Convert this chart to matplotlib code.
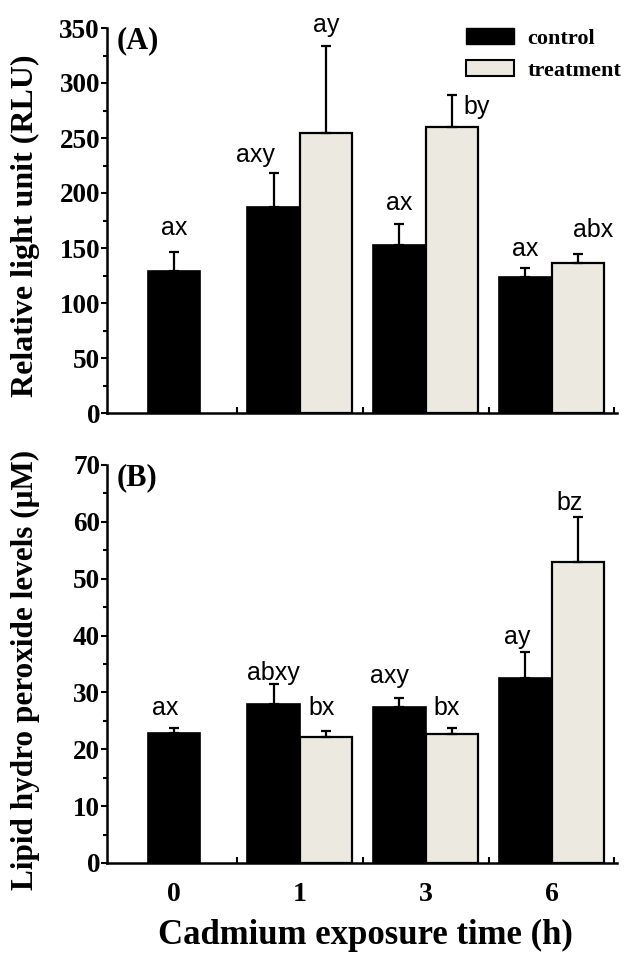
import matplotlib
matplotlib.use("Agg")
import matplotlib.pyplot as plt
from matplotlib.patches import Patch
from matplotlib.ticker import MultipleLocator, FixedLocator
import numpy as np

# ---------------- data ----------------
times = ["0", "1", "3", "6"]

# Panel A: relative light unit (RLU)
rlu_control = [129.5, 187, 153, 124]
rlu_control_err = [17, 31.5, 18.5, 7.5]
rlu_treat = [np.nan, 255, 260, 136.5]
rlu_treat_err = [np.nan, 79, 29.5, 8.5]
rlu_ctrl_letters = ["ax", "axy", "ax", "ax"]
rlu_trt_letters = ["", "ay", "by", "abx"]

# Panel B: lipid hydroperoxide levels (uM)
lhp_control = [22.8, 28.0, 27.4, 32.6]
lhp_control_err = [1.0, 3.5, 1.6, 4.5]
lhp_treat = [np.nan, 22.1, 22.7, 52.9]
lhp_treat_err = [np.nan, 1.2, 1.1, 7.9]
lhp_ctrl_letters = ["ax", "abxy", "axy", "ay"]
lhp_trt_letters = ["", "bx", "bx", "bz"]

# ---------------- layout / style ----------------
W, H = 633, 957
CTRL = "#000000"
TRT = "#ECEAE0"
SERIF = ["Liberation Serif", "DejaVu Serif"]
SANS = ["Liberation Sans", "DejaVu Sans"]
bw = 0.415

# label offsets in points (dx, dy) relative to top of error bar
offA_c = [(0, 12), (-13, 8), (0, 10), (0, 9)]
offA_t = [(0, 0), (0, 10), (18, -14), (11, 12)]
offB_c = [(-6, 9), (0, 3), (-7, 11), (-6, 6)]
offB_t = [(0, 0), (-3, 11), (-4, 9), (-6, 5)]

fig = plt.figure(figsize=(W / 100, H / 100), dpi=100)
axA = fig.add_axes([107 / W, 1 - 413 / H, 510 / W, 385 / H])
axB = fig.add_axes([107 / W, 1 - 863 / H, 510 / W, 398 / H])


def draw(ax, ctrl, cerr, trt, terr, clet, tlet, offc, offt, ymax, major, minor):
    x = np.arange(len(times))
    has_t = ~np.isnan(np.array(trt, dtype=float))
    xc = np.where(has_t, x - bw / 2, x)
    xt = x + bw / 2
    ax.bar(xc, ctrl, width=bw, color=CTRL, edgecolor=CTRL, linewidth=1.2, zorder=2)
    ax.errorbar(xc, ctrl, yerr=[np.zeros(len(ctrl)), cerr], fmt="none",
                ecolor="black", elinewidth=1.6, capsize=3.5, capthick=1.6, zorder=3)
    ax.bar(xt[has_t], np.array(trt)[has_t], width=bw, color=TRT, edgecolor="black",
           linewidth=1.6, zorder=2)
    ax.errorbar(xt[has_t], np.array(trt)[has_t],
                yerr=[np.zeros(has_t.sum()), np.array(terr)[has_t]], fmt="none",
                ecolor="black", elinewidth=1.6, capsize=3.5, capthick=1.6, zorder=3)
    for i in range(len(times)):
        ax.annotate(clet[i], (xc[i], ctrl[i] + cerr[i]), xytext=offc[i],
                    textcoords="offset points", ha="center", va="baseline",
                    fontsize=18, family=SANS, annotation_clip=False)
        if has_t[i]:
            ax.annotate(tlet[i], (xt[i], trt[i] + terr[i]), xytext=offt[i],
                        textcoords="offset points", ha="center", va="baseline",
                        fontsize=18, family=SANS, annotation_clip=False)
    ax.set_xlim(-0.53, 3.52)
    ax.set_ylim(0, ymax)
    for s in ["top", "right"]:
        ax.spines[s].set_visible(False)
    for s in ["left", "bottom"]:
        ax.spines[s].set_linewidth(1.8)
    ax.yaxis.set_major_locator(MultipleLocator(major))
    ax.yaxis.set_minor_locator(MultipleLocator(minor))
    ax.tick_params(axis="y", which="major", direction="out", length=4, width=1.5,
                   pad=1, labelsize=19.5)
    ax.tick_params(axis="y", which="minor", direction="out", length=3, width=1.5)
    ax.xaxis.set_major_locator(FixedLocator(x))
    ax.xaxis.set_minor_locator(FixedLocator([0.5, 1.5, 2.5, 3.5]))
    ax.tick_params(axis="x", which="major", length=0, pad=14, labelsize=20)
    ax.tick_params(axis="x", which="minor", direction="in", length=4, width=1.5)
    for lab in ax.get_yticklabels() + ax.get_xticklabels():
        lab.set_fontfamily(SERIF)
        lab.set_fontweight("bold")


draw(axA, rlu_control, rlu_control_err, rlu_treat, rlu_treat_err,
     rlu_ctrl_letters, rlu_trt_letters, offA_c, offA_t, 350, 50, 25)
draw(axB, lhp_control, lhp_control_err, lhp_treat, lhp_treat_err,
     lhp_ctrl_letters, lhp_trt_letters, offB_c, offB_t, 70, 10, 5)

axA.set_xticklabels([])
axB.set_xticklabels(times)
for lab in axB.get_xticklabels():
    lab.set_fontfamily(SERIF)
    lab.set_fontweight("bold")

# panel tags
axA.text(117 / W, 1 - 41 / H, "(A)", transform=fig.transFigure, fontsize=22,
         family=SERIF, fontweight="bold", va="center", ha="left")
axB.text(117 / W, 1 - 478 / H, "(B)", transform=fig.transFigure, fontsize=22,
         family=SERIF, fontweight="bold", va="center", ha="left")

# axis labels
fig.text(25 / W, 1 - 226 / H, "Relative light unit (RLU)", rotation=90,
         ha="center", va="center", fontsize=23, family=SERIF, fontweight="bold")
fig.text(25 / W, 1 - 670 / H, "Lipid hydro peroxide levels (μM)", rotation=90,
         ha="center", va="center", fontsize=22.5, family=SERIF, fontweight="bold")
fig.text(365 / W, 1 - 935 / H, "Cadmium exposure time (h)", ha="center",
         va="center", fontsize=25, family=SERIF, fontweight="bold")

# legend
handles = [Patch(facecolor=CTRL, edgecolor=CTRL, label="control"),
           Patch(facecolor=TRT, edgecolor="black", linewidth=1.5, label="treatment")]
leg = fig.legend(handles=handles, loc="upper left",
                 bbox_to_anchor=(466 / W, 1 - 28 / H), frameon=False,
                 prop={"family": SERIF, "weight": "bold", "size": 16},
                 handlelength=2.15, handleheight=0.75, handletextpad=0.6,
                 labelspacing=0.5, borderaxespad=0, borderpad=0)

fig.savefig("out.png", dpi=100)
